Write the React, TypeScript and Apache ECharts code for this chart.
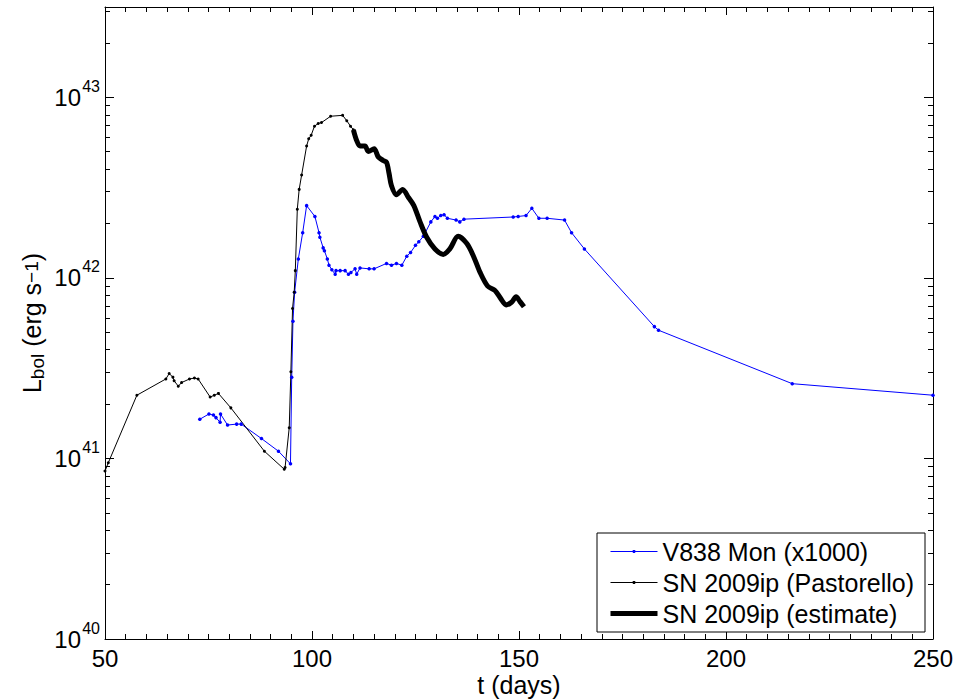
import React, { useEffect, useRef } from 'react';
import * as echarts from 'echarts';

const FONT = '"Liberation Sans", Arial, Helvetica, sans-serif';

// V838 Mon (x1000): time in days, log10 of bolometric luminosity (erg/s)
const v838Days = [
  72.9, 75.1, 76.2, 76.8, 77.8, 77.9, 79.6, 81.8, 82.9, 87.8, 91.9, 94.8,
  95.1, 95.4, 95.8, 96.7, 97.75, 98.7, 100.7, 101.7, 101.9, 102.7, 103.0,
  103.7, 104.1, 104.8, 105.6, 105.8, 106.8, 108.0, 108.8, 109.4, 110.4,
  110.8, 111.6, 113.8, 115.0, 118.0, 119.2, 120.4, 121.7, 122.9, 123.8,
  125.0, 125.8, 126.9, 128.7, 129.7, 130.3, 131.1, 131.9, 132.7, 134.8,
  135.7, 136.7, 148.6, 149.8, 151.7, 153.1, 154.8, 156.8, 161.0, 162.7,
  165.8, 182.7, 183.7, 216.0, 250.0,
];
const v838LogL = [
  41.217, 41.246, 41.24, 41.226, 41.2, 41.246, 41.185, 41.19, 41.19, 41.11, 41.04, 40.97,
  41.45, 41.76, 41.92, 42.105, 42.25, 42.4, 42.34, 42.25, 42.225, 42.166, 42.15,
  42.105, 42.07, 42.045, 42.02, 42.04, 42.04, 42.04, 42.02, 42.03, 42.05,
  42.02, 42.055, 42.05, 42.05, 42.08, 42.07, 42.08, 42.07, 42.12, 42.14,
  42.18, 42.2, 42.23, 42.31, 42.34, 42.33, 42.345, 42.35, 42.33, 42.32,
  42.31, 42.325, 42.337, 42.34, 42.345, 42.385, 42.33, 42.33, 42.32, 42.25,
  42.16, 41.73, 41.71, 41.414, 41.35,
];

// SN 2009ip (Pastorello)
const pastorelloDays = [
  50.0, 50.8, 57.7, 64.7, 65.5, 66.4, 66.7, 67.7, 68.5, 70.4, 71.6, 72.5,
  75.4, 76.4, 77.4, 80.4, 88.5, 93.3, 93.5, 94.5, 94.9, 95.3, 95.7, 95.97,
  96.45, 96.9, 97.5, 98.7, 99.2, 99.8, 100.6, 101.5, 102.3, 104.5, 107.4,
  108.4, 109.3, 110.0,
];
const pastorelloLogL = [
  40.93, 40.976, 41.35, 41.44, 41.47, 41.45, 41.43, 41.4, 41.42, 41.44, 41.445, 41.44,
  41.34, 41.35, 41.36, 41.28, 41.04, 40.94, 40.95, 41.17, 41.48, 41.83, 41.92, 42.04,
  42.38, 42.49, 42.57, 42.73, 42.77, 42.79, 42.84, 42.855, 42.86, 42.895, 42.9,
  42.87, 42.84, 42.82,
];

// SN 2009ip (estimate)
const estimateDays = [
  110.0, 110.8, 111.6, 112.8, 113.6, 115.0, 116.0, 117.2, 118.0, 118.6, 119.2,
  120.4, 121.9, 123.3, 124.6, 126.1, 127.7, 129.7, 131.7, 133.3, 135.3, 137.4,
  139.0, 140.6, 142.4, 144.2, 145.6, 146.9, 148.2, 149.3, 150.2, 151.2,
];
const estimateLogL = [
  42.82, 42.76, 42.73, 42.73, 42.7, 42.715, 42.67, 42.65, 42.64, 42.58, 42.51,
  42.46, 42.49, 42.445, 42.4, 42.31, 42.225, 42.16, 42.13, 42.16, 42.23, 42.19,
  42.12, 42.03, 41.955, 41.93, 41.885, 41.85, 41.865, 41.895, 41.87, 41.84,
];

// Annotations
const annotationTexts = ['2012a', '2012b'];
const annotationDays = [71.3, 107.2];
const annotationLogL = [41.58, 42.99];

// Axis ticks
const xTickLabels = [50, 100, 150, 200, 250];
const xMinorStep = 5;
const yMajorExponents = [40, 41, 42, 43];
const yMinorMantissas = [2, 3, 4, 5, 6, 7, 8, 9];

const seriesNames = ['V838 Mon (x1000)', 'SN 2009ip (Pastorello)', 'SN 2009ip (estimate)'];

const Y_MIN = 40;
const Y_MAX = 43.5;
const X_MIN = xTickLabels[0];
const X_MAX = xTickLabels[xTickLabels.length - 1];

const zip = (a: number[], b: number[]) => a.map((x, i) => [x, b[i]]);

export default function App() {
  const ref = useRef<HTMLDivElement>(null);

  useEffect(() => {
    if (!ref.current) return;
    const chart = echarts.init(ref.current, null, { renderer: 'svg' });

    const yMinorValues: number[] = [];
    yMajorExponents.forEach((e) => {
      yMinorMantissas.forEach((m) => {
        const v = e + Math.log10(m);
        if (v <= Y_MAX) yMinorValues.push(v);
      });
    });
    const xMinorValues: number[] = [];
    for (let v = X_MIN; v <= X_MAX; v += xMinorStep) {
      if (!xTickLabels.includes(v)) xMinorValues.push(v);
    }

    const black = '#000';
    const lineStyle = { color: black, width: 1 };

    const xBase = {
      type: 'value',
      min: X_MIN,
      max: X_MAX,
      splitLine: { show: false },
    };
    const yBase = {
      type: 'value',
      min: Y_MIN,
      max: Y_MAX,
      splitLine: { show: false },
    };

    const xMajor = (position: string, extra: any = {}) => ({
      ...xBase,
      position,
      axisLine: { show: true, onZero: false, lineStyle },
      axisTick: { show: true, inside: true, length: 8, lineStyle, customValues: xTickLabels },
      axisLabel: { show: false },
      ...extra,
    });
    const xMinor = (position: string) => ({
      ...xBase,
      position,
      axisLine: { show: false },
      axisTick: { show: true, inside: true, length: 5, lineStyle, customValues: xMinorValues },
      axisLabel: { show: false },
    });
    const yMajor = (position: string, extra: any = {}) => ({
      ...yBase,
      position,
      axisLine: { show: true, onZero: false, lineStyle },
      axisTick: { show: true, inside: true, length: 9, lineStyle, customValues: yMajorExponents },
      axisLabel: { show: false },
      ...extra,
    });
    const yMinor = (position: string) => ({
      ...yBase,
      position,
      axisLine: { show: false },
      axisTick: { show: true, inside: true, length: 5, lineStyle, customValues: yMinorValues },
      axisLabel: { show: false },
    });

    const option: any = {
      animation: false,
      backgroundColor: '#fff',
      grid: { left: 105, right: 25, top: 7, bottom: 60, containLabel: false, outerBoundsMode: 'none' },
      xAxis: [
        xMajor('bottom', {
          name: 't (days)',
          nameLocation: 'middle',
          nameGap: 33,
          nameMoveOverlap: false,
          nameTextStyle: { color: black, fontFamily: FONT, fontSize: 25, lineHeight: 25 },
          axisLabel: {
            show: true,
            color: black,
            fontFamily: FONT,
            fontSize: 24,
            lineHeight: 18,
            margin: 10,
            customValues: xTickLabels,
          },
        }),
        xMinor('bottom'),
        xMajor('top'),
        xMinor('top'),
      ],
      yAxis: [
        // left major ticks + mantissa "10"
        yMajor('left', {
          name: '{a|L}{sub|bol}{a| (erg s}{sup|\u22121}{a|)}',
          nameLocation: 'middle',
          nameRotate: 90,
          nameGap: 58,
          nameMoveOverlap: false,
          nameTextStyle: {
            rich: {
              a: { fontSize: 25, fontFamily: FONT, color: black, lineHeight: 25, padding: [7, 0, 12, 0], verticalAlign: 'middle' },
              sub: { fontSize: 19, fontFamily: FONT, color: black, lineHeight: 19, verticalAlign: 'bottom' },
              sup: { fontSize: 19, fontFamily: FONT, color: black, lineHeight: 19, verticalAlign: 'top' },
            },
          },
          axisLabel: {
            show: true,
            color: black,
            fontFamily: FONT,
            fontSize: 24,
            margin: 24,
            customValues: yMajorExponents,
            formatter: () => '10',
          },
        }),
        // left minor ticks + exponent labels
        {
          ...yMinor('left'),
          axisLabel: {
            show: true,
            color: black,
            fontFamily: FONT,
            fontSize: 16,
            lineHeight: 16,
            margin: 5,
            verticalAlign: 'bottom',
            padding: [0, 0, 3, 0],
            customValues: yMajorExponents,
            formatter: (v: number) => String(Math.round(v)),
          },
        },
        yMajor('right'),
        yMinor('right'),
      ],
      legend: {
        data: [
          {
            name: seriesNames[0],
            lineStyle: { width: 1, color: '#0000ff' },
            itemStyle: { color: '#0000ff' },
          },
          {
            name: seriesNames[1],
            lineStyle: { width: 1, color: black },
            itemStyle: { color: black },
          },
          {
            name: seriesNames[2],
            lineStyle: { width: 5, color: black },
            itemStyle: { color: 'rgba(0,0,0,0)', opacity: 0 },
          },
        ],
        orient: 'vertical',
        left: 597,
        top: 533,
        backgroundColor: '#fff',
        borderColor: black,
        borderWidth: 1,
        borderRadius: 0,
        padding: [6, 11, 6, 11],
        itemGap: 6,
        itemWidth: 47,
        itemHeight: 4,
        textStyle: { color: black, fontFamily: FONT, fontSize: 25, lineHeight: 25 },
      },
      series: [
        {
          name: seriesNames[0],
          type: 'line',
          data: zip(v838Days, v838LogL),
          symbol: 'circle',
          symbolSize: 3.5,
          showAllSymbol: true,
          lineStyle: { color: '#0000ff', width: 1 },
          itemStyle: { color: '#0000ff' },
          z: 3,
        },
        {
          name: seriesNames[1],
          type: 'line',
          data: zip(pastorelloDays, pastorelloLogL),
          symbol: 'circle',
          symbolSize: 3,
          showAllSymbol: true,
          lineStyle: { color: black, width: 1 },
          itemStyle: { color: black },
          z: 3,
        },
        {
          name: seriesNames[2],
          type: 'line',
          data: zip(estimateDays, estimateLogL),
          symbol: 'none',
          smooth: 0.3,
          lineStyle: { color: black, width: 5 },
          itemStyle: { color: black },
          z: 4,
        },
        {
          name: 'annotations',
          type: 'scatter',
          data: annotationTexts.map((t, i) => [annotationDays[i], annotationLogL[i], t]),
          symbolSize: 1,
          itemStyle: { opacity: 0 },
          silent: true,
          label: {
            show: true,
            position: 'inside',
            formatter: (p: any) => p.data[2],
            color: black,
            fontFamily: FONT,
            fontSize: 20,
          },
          z: 5,
        },
      ],
    };

    chart.setOption(option);
    return () => chart.dispose();
  }, []);

  return (
    <div
      ref={ref}
      style={{ position: 'fixed', left: 0, top: 0, width: 958, height: 699, background: '#fff' }}
    />
  );
}
